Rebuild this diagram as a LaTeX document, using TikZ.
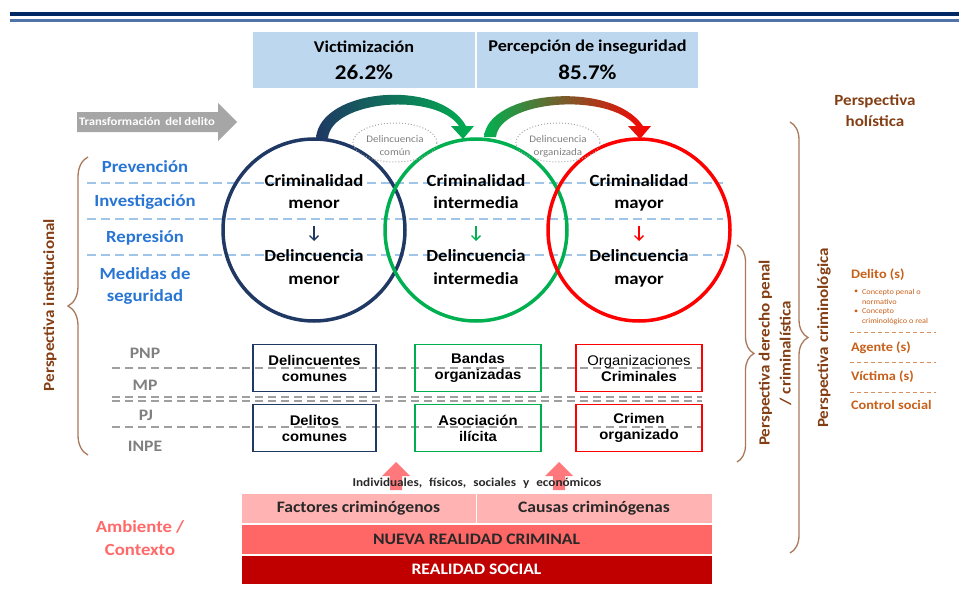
\documentclass[tikz,border=0pt]{standalone}
\usepackage{fontspec}
\setmainfont{Carlito}[FakeStretch=1.1]
\newfontfamily\arialf{Liberation Sans}[FakeStretch=1.06]
\usetikzlibrary{calc,shapes.geometric,decorations.pathreplacing,arrows.meta}
\definecolor{navy}{RGB}{31,56,100}
\definecolor{grn}{RGB}{0,176,80}
\definecolor{rd}{RGB}{255,0,0}
\definecolor{lblue}{RGB}{40,117,212}
\definecolor{dashblue}{RGB}{160,197,232}
\definecolor{boxblue}{RGB}{189,215,238}
\definecolor{brn}{RGB}{132,62,20}
\definecolor{bracec}{RGB}{170,120,90}
\definecolor{orng}{RGB}{200,95,25}
\definecolor{gry}{RGB}{128,128,128}
\definecolor{arrgray}{RGB}{166,166,166}
\definecolor{pinka}{RGB}{255,179,179}
\definecolor{pinkb}{RGB}{255,102,102}
\definecolor{dred}{RGB}{192,0,0}
\definecolor{salmon}{RGB}{255,105,105}
\definecolor{uparr}{RGB}{255,120,124}
\definecolor{hdr}{RGB}{0,40,100}
\definecolor{hdrb}{RGB}{80,115,170}
\definecolor{txtdark}{RGB}{40,40,40}
\newcommand\fsz[2]{\fontsize{#1}{#2}\selectfont}
\begin{document}
\begin{tikzpicture}[x=1pt,y=-1pt,
  every node/.style={inner sep=0pt, outer sep=0pt, align=center},
  hdrtxt/.style={font=\fsz{16.5}{20}\bfseries, text=black},
  numtxt/.style={font=\fsz{21}{24}\bfseries, text=black},
  bluelbl/.style={text=lblue, font=\fsz{17}{20}\bfseries},
  ctxt/.style={font=\fsz{17}{20}\bfseries, text=black, text height=11pt, text depth=3pt},
  bigcirc/.style={circle, draw=#1, line width=3.5pt, minimum size=182pt},
  bdash/.style={draw=dashblue, line width=1.6pt, dash pattern=on 9pt off 5pt},
  gdash/.style={draw=gray!75, line width=2pt, dash pattern=on 8pt off 5pt},
  instlbl/.style={text=gry, font=\fsz{16}{18}\bfseries},
  crimebox/.style={draw=#1, line width=1.8pt, minimum height=47pt, font=\arialf\fsz{14}{16}\bfseries, text=black},
  ellip/.style={ellipse, draw=gray!70, dotted, line width=1pt, minimum width=84pt, minimum height=39pt},
  elltxt/.style={text=gray, font=\fsz{10}{13}},
  smarr/.style={-{Straight Barb[length=4.5pt,width=9pt]}, line width=1.4pt, shorten <=15pt, shorten >=9pt},
  bracebr/.style={decorate, decoration={brace, amplitude=#1}, draw=bracec, line width=1.3pt},
  persp/.style={text=brn, font=\fsz{15.5}{21}\bfseries},
  listtxt/.style={text=orng, font=\fsz{13}{15}\bfseries, anchor=west},
  bullettxt/.style={text=orng, font=\fsz{7.5}{9.5}, anchor=west},
  odash/.style={draw=orng!70, line width=1pt, dash pattern=on 4pt off 3pt},
  stackrow/.style={draw=white, line width=1pt, fill=#1, minimum height=30pt}
]
\useasboundingbox (0,0) rectangle (959,594);

% header lines
\draw[hdr, line width=4pt] (10,14) -- (959,14);
\draw[hdrb, line width=2.5pt] (10,20.5) -- (959,20.5);

% top boxes
\node[fill=boxblue, minimum width=222pt, minimum height=56pt] (bx1) at (364,60) {};
\node[fill=boxblue, minimum width=221pt, minimum height=56pt] (bx2) at (587.5,60) {};
\node[hdrtxt] (vic) at (364,47) {Victimización};
\node[numtxt] (vicn) at (364,72) {26.2\%};
\node[hdrtxt] (per) at (587.5,47) {Percepción de inseguridad};
\node[numtxt] (pern) at (587.5,72) {85.7\%};

% transformation arrow
\fill[arrgray] (77,112) -- (218,112) -- (218,103) -- (237,122) -- (218,141) -- (218,132) -- (77,132) -- cycle;
\node[text=white, font=\fsz{11.5}{13}\bfseries] (trf) at (147,122) {Transformación\hspace{2pt} del delito};

% blue dashed lines
\draw[bdash] (87,183) -- (723,183);
\draw[bdash] (87,219) -- (723,219);
\draw[bdash] (87,255) -- (723,255);

% left labels
\node[bluelbl] (prev) at (145,167) {Prevención};
\node[bluelbl] (inv) at (145,202) {Investigación};
\node[bluelbl] (rep) at (145,238) {Represión};
\node[bluelbl] (med) at (145,286) {Medidas de\\[2pt]seguridad};

% circles
\node[bigcirc=navy] (c1) at (314,230) {};
\node[bigcirc=grn] (c2) at (476,230) {};
\node[bigcirc=rd] (c3) at (639,230) {};

% curved gradient arrows
\begin{scope}[shift={(c1.center)}]
\shade[left color=navy, right color=grn] (2,-92) .. controls (6,-142) and (126,-152) .. (152,-104) -- (160,-104) -- (149,-91) -- (137,-104) -- (145,-104) .. controls (122,-138) and (18,-130) .. (14,-92) -- cycle;
\end{scope}
\begin{scope}[shift={(c2.center)}]
\shade[left color=grn, right color=rd] (8,-93) .. controls (12,-140) and (136,-150) .. (167,-104) -- (175,-104) -- (164,-91) -- (152,-104) -- (160,-104) .. controls (132,-138) and (24,-130) .. (20,-93) -- cycle;
\end{scope}

% dotted ellipses
\node[ellip] (e1) at (395,142.5) {};
\node[elltxt] (e1t) at (395,146) {Delincuencia\\común};
\node[ellip] (e2) at (558,142.5) {};
\node[elltxt] (e2t) at (558,146) {Delincuencia\\organizada};

% circle texts
\node[ctxt] (a1) at (314,182) {Criminalidad};
\node[ctxt] (b1) at (314,204) {menor};
\node[ctxt] (d1) at (314,257) {Delincuencia};
\node[ctxt] (f1) at (314,280) {menor};
\draw[navy, smarr] (b1) -- (d1);
\node[ctxt] (a2) at (476,182) {Criminalidad};
\node[ctxt] (b2) at (476,204) {intermedia};
\node[ctxt] (d2) at (476,257) {Delincuencia};
\node[ctxt] (f2) at (476,280) {intermedia};
\draw[grn, smarr] (b2) -- (d2);
\node[ctxt] (a3) at (639,182) {Criminalidad};
\node[ctxt] (b3) at (639,204) {mayor};
\node[ctxt] (d3) at (639,257) {Delincuencia};
\node[ctxt] (f3) at (639,280) {mayor};
\draw[rd, smarr] (b3) -- (d3);

% gray dashed lines
\draw[gdash] (112,368) -- (702,368);
\draw[gdash] (112,397) -- (702,397);
\draw[gdash] (112,401) -- (702,401);
\draw[gdash] (112,426.5) -- (702,426.5);

% institution labels
\node[instlbl] (pnp) at (145,353) {PNP};
\node[instlbl] (mp) at (145,385) {MP};
\node[instlbl] (pj) at (146,415) {PJ};
\node[instlbl] (inpe) at (145,446) {INPE};

% crime boxes
\node[crimebox=navy, minimum width=123pt] (k1) at (314.5,368) {Delincuentes\\comunes};
\node[crimebox=grn, minimum width=126pt] (k2) at (478,368) {Bandas\\organizadas};
\node[crimebox=rd, minimum width=126pt] (k3) at (639,368) {{\mdseries Organizaciones}\\Criminales};
\node[crimebox=navy, minimum width=123pt] (k4) at (314.5,428) {Delitos\\comunes};
\node[crimebox=grn, minimum width=126pt] (k5) at (478,428) {Asociación\\ilícita};
\node[crimebox=rd, minimum width=126pt] (k6) at (639,428) {Crimen\\organizado};

% up arrows
\fill[uparr] (390,490) -- (390,476) -- (382,476) -- (396,462) -- (410,476) -- (402,476) -- (402,490) -- cycle;
\fill[uparr] (553,490) -- (553,476) -- (545,476) -- (559,462) -- (573,476) -- (565,476) -- (565,490) -- cycle;
\node[text=txtdark, font=\fsz{12}{14}\bfseries] (ind) at (477,483) {Individuales,\hspace{4pt} físicos,\hspace{4pt} sociales\hspace{4pt} y\hspace{4pt} económicos};

% bottom stack
\node[stackrow=pinka, minimum width=235pt] (fac) at (358.5,508) {};
\node[stackrow=pinka, minimum width=236pt] (cau) at (594,508) {};
\node[stackrow=pinkb, minimum width=471pt] (nue) at (476.5,539) {};
\node[stackrow=dred, minimum width=471pt, minimum height=29pt] (soc) at (476.5,569.5) {};
\node[font=\fsz{16}{18}\bfseries, text=txtdark] (fact) at (358.5,508) {Factores criminógenos};
\node[font=\fsz{16}{18}\bfseries, text=txtdark] (caut) at (594,508) {Causas criminógenas};
\node[font=\fsz{16}{18}\bfseries, text=txtdark] (nuet) at (476.5,539) {NUEVA REALIDAD CRIMINAL};
\node[font=\fsz{16}{18}\bfseries, text=white] (soct) at (476.5,569.5) {REALIDAD SOCIAL};

\node[text=salmon, font=\fsz{17}{23}\bfseries] (amb) at (140,538.5) {Ambiente /\\Contexto};

% braces
\draw[bracebr=20] (88,455) -- (88,157);
\node[persp, rotate=90] (pinst) at (50,305) {Perspectiva institucional};
\draw[bracebr=18] (790,122) -- (790,553);
\draw[bracebr=17] (737,245) -- (737,462);
\node[persp, rotate=90] (pder) at (775,353) {Perspectiva derecho penal\\/ criminalística};
\node[persp, rotate=90] (pcrim) at (824,338) {Perspectiva criminológica};
\node[persp] (phol) at (875,111) {Perspectiva\\holística};

% right list
\node[listtxt] (del) at (851,275) {Delito (s)};
\node[bullettxt] (bu1) at (854,292) {•};
\node[bullettxt] (l1) at (862,292) {Concepto penal o};
\node[bullettxt] (l2) at (862,302) {normativo};
\node[bullettxt] (bu2) at (854,312) {•};
\node[bullettxt] (l3) at (862,312) {Concepto};
\node[bullettxt] (l4) at (862,322) {criminológico o real};
\draw[odash] (850,332) -- (936,332);
\node[listtxt] (age) at (851,348) {Agente (s)};
\draw[odash] (850,362) -- (936,362);
\node[listtxt] (vict) at (851,377) {Víctima (s)};
\draw[odash] (850,392) -- (936,392);
\node[listtxt] (ctrl) at (851,405) {Control social};
\end{tikzpicture}
\end{document}
